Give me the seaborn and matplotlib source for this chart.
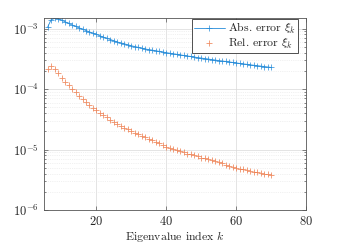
import numpy as np
import pandas as pd
import seaborn as sns
import matplotlib.pyplot as plt

# eigenvalue index k = 6..70
k = list(range(6, 71))

abs_err = [1.05e-3, 1.40e-3, 1.47e-3, 1.45e-3, 1.38e-3, 1.30e-3, 1.22e-3, 1.15e-3,
           1.09e-3, 1.03e-3, 9.8e-4, 9.3e-4, 8.8e-4, 8.4e-4, 8.0e-4, 7.6e-4,
           7.2e-4, 6.9e-4, 6.6e-4, 6.3e-4, 6.0e-4, 5.8e-4, 5.6e-4, 5.4e-4,
           5.2e-4, 5.05e-4, 4.9e-4, 4.75e-4, 4.6e-4, 4.5e-4, 4.4e-4, 4.3e-4,
           4.2e-4, 4.1e-4, 4.0e-4, 3.92e-4, 3.84e-4, 3.76e-4, 3.68e-4, 3.6e-4,
           3.53e-4, 3.46e-4, 3.39e-4, 3.32e-4, 3.26e-4, 3.2e-4, 3.14e-4, 3.08e-4,
           3.02e-4, 2.96e-4, 2.91e-4, 2.86e-4, 2.81e-4, 2.76e-4, 2.71e-4, 2.66e-4,
           2.61e-4, 2.57e-4, 2.52e-4, 2.48e-4, 2.44e-4, 2.4e-4, 2.36e-4, 2.32e-4,
           2.28e-4]

rel_err = [2.15e-4, 2.4e-4, 2.15e-4, 1.88e-4, 1.55e-4, 1.33e-4, 1.16e-4, 1.0e-4,
           8.8e-5, 7.7e-5, 6.9e-5, 6.1e-5, 5.4e-5, 4.9e-5, 4.5e-5, 4.1e-5,
           3.7e-5, 3.4e-5, 3.1e-5, 2.85e-5, 2.6e-5, 2.45e-5, 2.3e-5, 2.15e-5,
           2.0e-5, 1.9e-5, 1.8e-5, 1.7e-5, 1.6e-5, 1.52e-5, 1.44e-5, 1.36e-5,
           1.28e-5, 1.2e-5, 1.12e-5, 1.07e-5, 1.02e-5, 9.8e-6, 9.4e-6, 9.0e-6,
           8.6e-6, 8.3e-6, 8.0e-6, 7.7e-6, 7.4e-6, 7.15e-6, 6.9e-6, 6.65e-6,
           6.4e-6, 6.15e-6, 5.9e-6, 5.65e-6, 5.4e-6, 5.2e-6, 5.0e-6, 4.85e-6,
           4.7e-6, 4.55e-6, 4.4e-6, 4.3e-6, 4.2e-6, 4.1e-6, 4.0e-6, 3.9e-6,
           3.8e-6]

x_ticks = [20, 40, 60, 80]
y_ticks = [1e-6, 1e-5, 1e-4, 1e-3]

sns.set_style("ticks")
plt.rcParams['font.family'] = ['cmr10', 'DejaVu Serif']
plt.rcParams['mathtext.fontset'] = 'cm'
plt.rcParams['axes.formatter.use_mathtext'] = True
plt.rcParams['axes.unicode_minus'] = False

df = pd.DataFrame({'k': k, 'abs': abs_err, 'rel': rel_err})

blue = (0.15, 0.55, 0.85)
orange = (0.93, 0.45, 0.25)

fig = plt.figure(figsize=(3.39, 2.46), dpi=100)
ax = fig.add_axes([0.13, 0.146, 0.773, 0.781])

sns.lineplot(data=df, x='k', y='abs', ax=ax, color=blue, marker='+',
             markersize=4, markeredgewidth=0.5, markeredgecolor=blue,
             linewidth=0.6, label=r'Abs. error $\xi_k$')
sns.lineplot(data=df, x='k', y='rel', ax=ax, color=orange, marker='+',
             markersize=4.5, markeredgewidth=0.6, markeredgecolor=orange,
             linestyle='none', alpha=0.8, label=r'Rel. error $\xi_k$')

ax.set_yscale('log')
ax.set_xlim(5, 80)
ax.set_ylim(1e-6, 1.5e-3)
ax.set_xticks(x_ticks)
ax.set_yticks(y_ticks)
ax.set_xlabel(r'Eigenvalue index $k$', fontsize=8.5, labelpad=1)
ax.set_ylabel('')

ax.grid(True, which='major', color='#d9d9d9', linewidth=0.5)
ax.grid(True, which='minor', color='#e4e4e4', linewidth=0.5, linestyle=':')
ax.tick_params(which='both', direction='in', top=True, right=True,
               labelsize=9, color='#555555', width=0.5)
ax.tick_params(which='major', length=3)
ax.tick_params(which='minor', length=1.5)
for s in ax.spines.values():
    s.set_color('#555555')
    s.set_linewidth(0.6)

leg = ax.legend(loc='upper right', bbox_to_anchor=(0.969, 0.997), fontsize=8.5,
                fancybox=False, framealpha=1, edgecolor='#333333',
                borderpad=0.2, handlelength=2.6, handletextpad=0.3,
                labelspacing=0.1, borderaxespad=0)
leg.get_frame().set_linewidth(0.6)

plt.savefig('out.png', dpi=100)
